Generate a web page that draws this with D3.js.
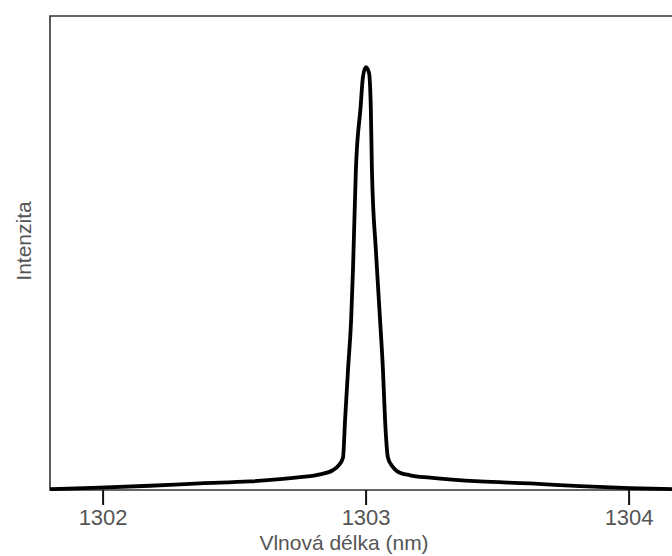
<!DOCTYPE html>
<html>
<head>
<meta charset="utf-8">
<script src="https://cdn.jsdelivr.net/npm/d3@7"></script>
<style>
  body { margin: 0; background: #fff; }
  svg { display: block; }
</style>
</head>
<body>
<div id="chart"></div>
<script>
// wavelength (nm) and relative intensity
var wavelength = [1301.800, 1301.990, 1302.180, 1302.370, 1302.560, 1302.751, 1302.827, 1302.876,
    1302.899, 1302.914, 1302.922, 1302.933, 1302.945, 1302.952, 1302.963, 1302.981, 1302.990,
    1303.001, 1303.013, 1303.020, 1303.024, 1303.039, 1303.055, 1303.066, 1303.074, 1303.085,
    1303.100, 1303.119, 1303.169, 1303.245, 1303.435, 1303.625, 1303.815, 1304.005, 1304.165];
var intensity = [0.002, 0.005, 0.009, 0.014, 0.018, 0.027, 0.033, 0.042,
    0.053, 0.068, 0.148, 0.253, 0.359, 0.464, 0.675, 0.808, 0.872,
    0.892, 0.880, 0.802, 0.675, 0.506, 0.359, 0.253, 0.148, 0.068,
    0.051, 0.040, 0.031, 0.026, 0.018, 0.014, 0.008, 0.004, 0.002];
var xTicks = [1302, 1303, 1304];

var W = 672, H = 556;
var margin = {top: 16, left: 50, bottom: 66};
var plotBottom = H - margin.bottom;

var svg = d3.select("#chart")
    .append("svg")
        .attr("width", W)
        .attr("height", H);

var x = d3.scaleLinear()
    .domain([1301.8, 1304.2])
    .range([margin.left, margin.left + 2.4 * 263]);

var y = d3.scaleLinear()
    .domain([0, 1])
    .range([plotBottom, margin.top]);

var data = wavelength.map(function(w, i) {
    return { w: w, v: intensity[i] };
});

// frame (open to the right, runs past the edge)
svg.append("path")
    .attr("fill", "none")
    .attr("stroke", "#333")
    .attr("stroke-width", 1.6)
    .attr("d", "M" + (x.range()[1] + 20) + "," + y(1) +
        "H" + x.range()[0] + "V" + y(0) + "H" + (x.range()[1] + 20));

svg.append("g")
    .attr("transform", "translate(0," + plotBottom + ")")
    .call(d3.axisBottom(x).tickValues(xTicks).tickSize(15).tickSizeOuter(0).tickFormat(d3.format("d")))
    .call(function(g) {
        g.select(".domain").remove();
        g.selectAll(".tick line").attr("stroke", "#111").attr("stroke-width", 2);
        g.selectAll(".tick text")
            .attr("y", 19)
            .attr("fill", "#555")
            .style("font-family", "Liberation Sans, Arial, sans-serif")
            .style("font-size", "22px");
    });

svg.append("path")
    .datum(data)
    .attr("fill", "none")
    .attr("stroke", "#000")
    .attr("stroke-width", 3.8)
    .attr("stroke-linejoin", "round")
    .attr("d", d3.line()
        .curve(d3.curveMonotoneX)
        .x(function(d) { return x(d.w) })
        .y(function(d) { return y(d.v) }));

svg.append("text")
    .attr("x", 344)
    .attr("y", 550)
    .attr("text-anchor", "middle")
    .attr("fill", "#555")
    .style("font-family", "Liberation Sans, Arial, sans-serif")
    .style("font-size", "21px")
    .text("Vlnová délka (nm)");

svg.append("text")
    .attr("transform", "translate(31,241) rotate(-90)")
    .attr("text-anchor", "middle")
    .attr("fill", "#555")
    .style("font-family", "Liberation Sans, Arial, sans-serif")
    .style("font-size", "21px")
    .text("Intenzita");
</script>
</body>
</html>
